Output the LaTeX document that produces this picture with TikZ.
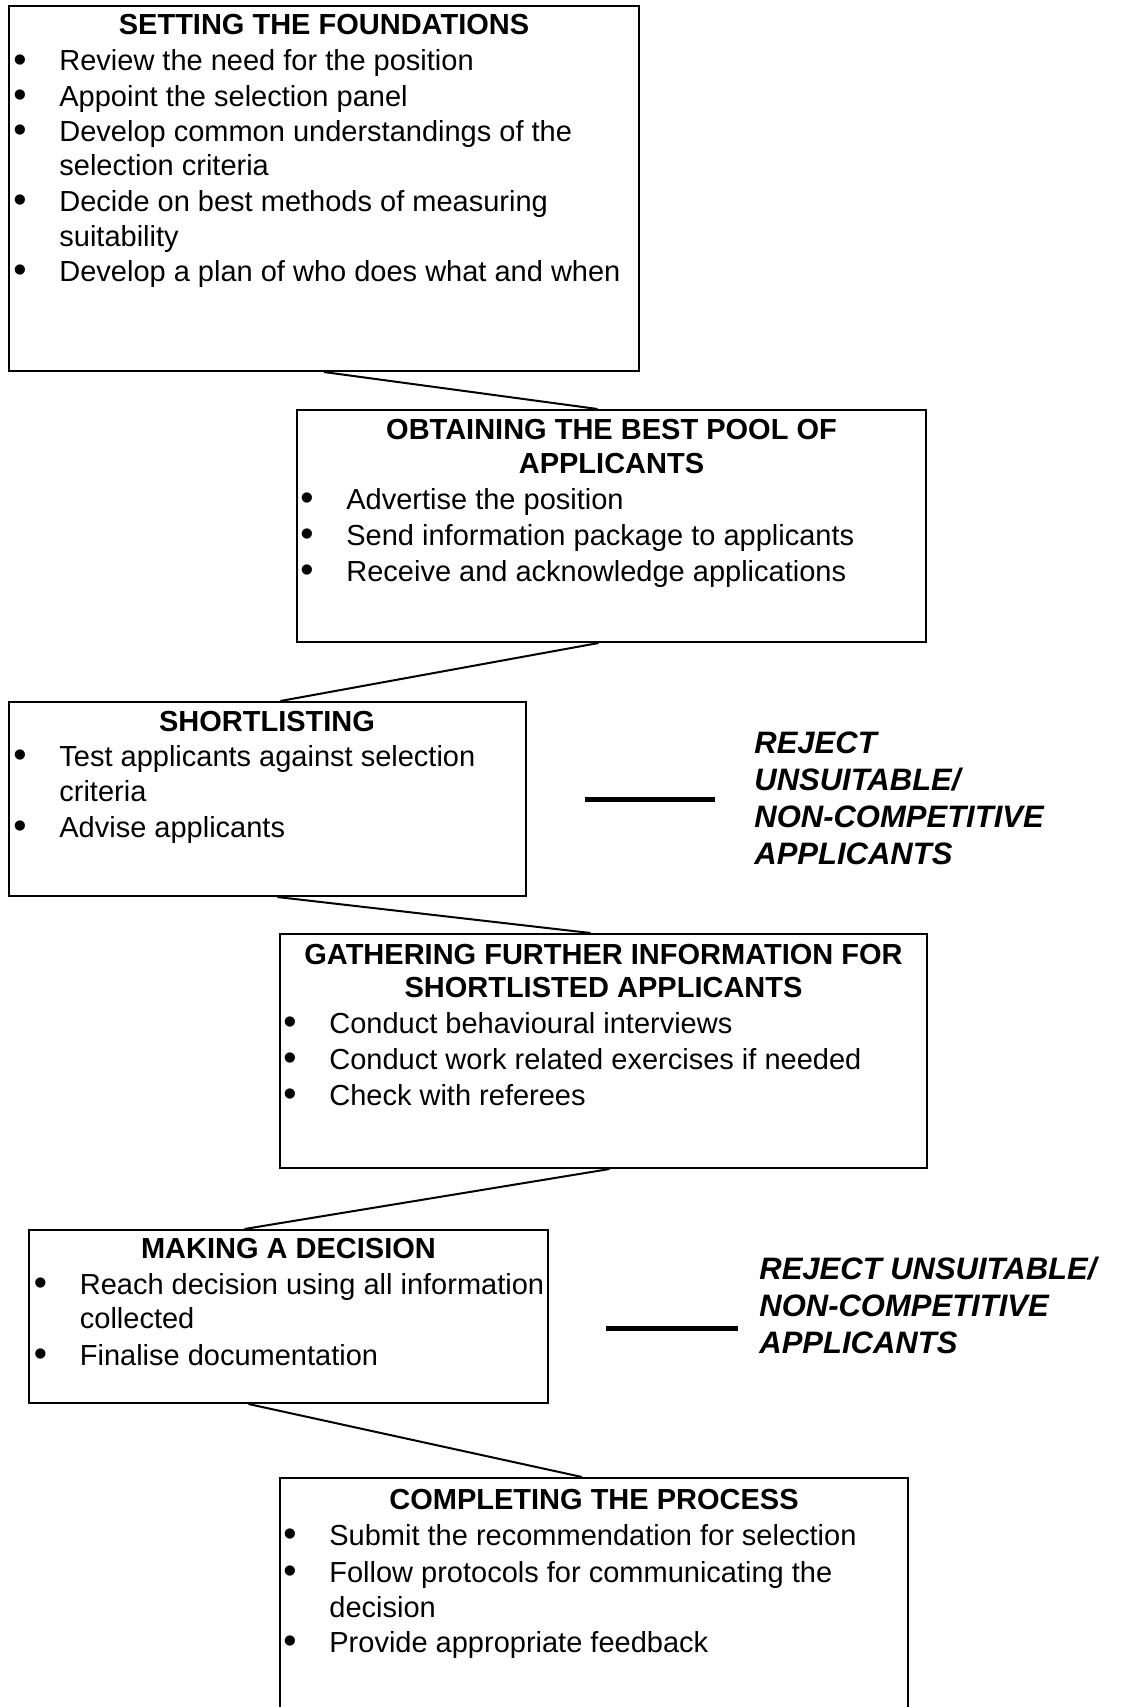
\documentclass[tikz,border=0pt]{standalone}
\usepackage{fontspec}
\setmainfont{Liberation Sans}
\usetikzlibrary{fit,calc}
\newlength\upx \setlength\upx{0.5pt}
\newcommand{\bul}{\makebox[49\upx][l]{\hspace*{3\upx}\raisebox{-0.06em}{\scalebox{1.3}{\textbullet}}}}
\begin{document}
\begin{tikzpicture}[x=0.5pt,y=-0.5pt,
  boxshape/.style={draw=black, line width=1pt, inner sep=0pt, fill=none},
  txt/.style={inner sep=0pt, anchor=base west, font=\fontsize{14.5}{17.4}\selectfont},
  ttl/.style={inner sep=0pt, anchor=base, font=\bfseries\fontsize{14.5}{17.4}\selectfont},
  rej/.style={inner sep=0pt, anchor=base west, font=\bfseries\itshape\fontsize{15.5}{18.5}\selectfont},
  link/.style={line width=1pt},
  rejline/.style={line width=2.5pt}]
\useasboundingbox (0,0) rectangle (1120,1707);
\clip (0,0) rectangle (1120,1707);
\fill[white] (0,0) rectangle (1120,1707);

% ---------- Box 1
\node[boxshape, fit={(8.7,6.5) (639,371)}] (b1) {};
\node[ttl] (b1t) at (324,35) {SETTING THE FOUNDATIONS};
\node[txt] (b1a) at (10,71)  {\bul Review the need for the position};
\node[txt] (b1b) at (10,106) {\bul Appoint the selection panel};
\node[txt] (b1c) at (10,141) {\bul Develop common understandings of the};
\node[txt] (b1d) at (59,176) {selection criteria};
\node[txt] (b1e) at (10,211) {\bul Decide on best methods of measuring};
\node[txt] (b1f) at (59,246) {suitability};
\node[txt] (b1g) at (10,281) {\bul Develop a plan of who does what and when};

% ---------- Box 2
\node[boxshape, fit={(297,410) (926,642)}] (b2) {};
\node[ttl] (b2t) at (611.5,439) {OBTAINING THE BEST POOL OF};
\node[ttl] (b2u) at (611.5,473) {APPLICANTS};
\node[txt] (b2a) at (297,509) {\bul Advertise the position};
\node[txt] (b2b) at (297,545) {\bul Send information package to applicants};
\node[txt] (b2c) at (297,581) {\bul Receive and acknowledge applications};

% ---------- Box 3
\node[boxshape, fit={(8.7,702) (526,896)}] (b3) {};
\node[ttl] (b3t) at (267,731) {SHORTLISTING};
\node[txt] (b3a) at (10,766) {\bul Test applicants against selection};
\node[txt] (b3b) at (59,801) {criteria};
\node[txt] (b3c) at (10,837) {\bul Advise applicants};

% ---------- Reject 1
\coordinate (r1a) at (584.5,799);
\coordinate (r1b) at (715,799);
\draw[rejline] (r1a) -- (r1b);
\node[rej] (rj1a) at (754,753) {REJECT};
\node[rej] (rj1b) at (754,790) {UNSUITABLE/};
\node[rej] (rj1c) at (754,827) {NON-COMPETITIVE};
\node[rej] (rj1d) at (754,864) {APPLICANTS};

% ---------- Box 4
\node[boxshape, fit={(280,934) (927,1168)}] (b4) {};
\node[ttl] (b4t) at (603.5,964) {GATHERING FURTHER INFORMATION FOR};
\node[ttl] (b4u) at (603.5,997) {SHORTLISTED APPLICANTS};
\node[txt] (b4a) at (280,1033) {\bul Conduct behavioural interviews};
\node[txt] (b4b) at (280,1069) {\bul Conduct work related exercises if needed};
\node[txt] (b4c) at (280,1105) {\bul Check with referees};

% ---------- Box 5
\node[boxshape, fit={(29.4,1230) (547.5,1403)}] (b5) {};
\node[ttl] (b5t) at (288.5,1258) {MAKING A DECISION};
\node[txt] (b5a) at (30.5,1294) {\bul Reach decision using all information};
\node[txt] (b5b) at (79.5,1328) {collected};
\node[txt] (b5c) at (30.5,1365) {\bul Finalise documentation};

% ---------- Reject 2
\coordinate (r2a) at (606,1328);
\coordinate (r2b) at (738,1328);
\draw[rejline] (r2a) -- (r2b);
\node[rej] (rj2a) at (759,1279) {REJECT UNSUITABLE/};
\node[rej] (rj2b) at (759,1316) {NON-COMPETITIVE};
\node[rej] (rj2c) at (759,1353) {APPLICANTS};

% ---------- Box 6
\node[boxshape, fit={(280,1478) (908,1730)}] (b6) {};
\node[ttl] (b6t) at (594,1509) {COMPLETING THE PROCESS};
\node[txt] (b6a) at (280,1545) {\bul Submit the recommendation for selection};
\node[txt] (b6b) at (280,1582) {\bul Follow protocols for communicating the};
\node[txt] (b6c) at (329,1617) {decision};
\node[txt] (b6d) at (280,1652) {\bul Provide appropriate feedback};

% ---------- Connectors
\draw[link] (b1.south) -- ($(b2.north)+(-14,0)$);
\draw[link] ($(b2.south)+(-13,0)$) -- ($(b3.north)+(13,0)$);
\draw[link] ($(b3.south)+(10,0)$) -- ($(b4.north)+(-13,0)$);
\draw[link] ($(b4.south)+(6,0)$) -- ($(b5.north)+(-44,0)$);
\draw[link] ($(b5.south)+(-40,0)$) -- ($(b6.north)+(-12,0)$);
\end{tikzpicture}
\end{document}
